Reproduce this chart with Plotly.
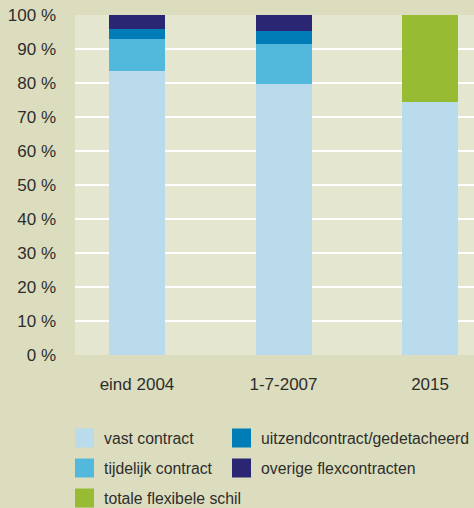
import plotly.graph_objects as go

# categories and stacked shares (percent of employees)
categories = ["eind 2004", "1-7-2007", "2015"]
vast = [83.5, 79.7, 74.4]
tijdelijk = [9.4, 11.8, 0]
uitzend = [3.0, 3.8, 0]
overige = [4.1, 4.7, 0]
flexibel = [0, 0, 25.6]

tick_values = [0, 10, 20, 30, 40, 50, 60, 70, 80, 90, 100]
tick_labels = [f"{v} %" for v in tick_values]

series = [
    ("vast contract", vast, "#b9dbec"),
    ("tijdelijk contract", tijdelijk, "#52b8dc"),
    ("uitzendcontract/gedetacheerd", uitzend, "#007db7"),
    ("overige flexcontracten", overige, "#2b2674"),
    ("totale flexibele schil", flexibel, "#97bb33"),
]

FONT = "Liberation Sans"
TEXT = "#2d2d2d"

fig = go.Figure()
for name, values, color in series:
    fig.add_trace(go.Bar(
        x=list(range(len(categories))),
        y=values,
        name=name,
        marker=dict(color=color, line=dict(width=0)),
        width=0.382,
        showlegend=False,
    ))

# legend drawn by hand: two columns, big square swatches
legend_order = [0, 2, 1, 3, 4]
for i, idx in enumerate(legend_order):
    name, _, color = series[idx]
    col, row = i % 2, i // 2
    x0 = 75 + col * 157
    yc = 438 + row * 30
    fig.add_shape(
        type="rect", xref="paper", yref="paper",
        x0=(x0 - 75) / 399, x1=(x0 + 19 - 75) / 399,
        y0=(355 - (yc + 9.5)) / 340, y1=(355 - (yc - 9.5)) / 340,
        fillcolor=color, line=dict(width=0),
    )
    fig.add_annotation(
        text=name, xref="paper", yref="paper",
        x=(x0 + 27 - 75) / 399, y=(355 - yc) / 340,
        xanchor="left", yanchor="middle", showarrow=False,
        font=dict(family=FONT, size=15.8, color=TEXT),
    )

fig.update_layout(
    barmode="stack",
    width=474,
    height=508,
    margin=dict(l=75, r=0, t=15, b=153),
    paper_bgcolor="#dcddbe",
    plot_bgcolor="#e5e6d0",
    font=dict(family=FONT, size=17, color=TEXT),
    xaxis=dict(
        range=[-0.423, 2.30],
        tickvals=list(range(len(categories))),
        ticktext=categories,
        showgrid=False,
        zeroline=False,
        showline=False,
        ticks="",
        ticklabelstandoff=17,
    ),
    yaxis=dict(
        range=[0, 100],
        tickvals=tick_values,
        ticktext=tick_labels,
        showgrid=True,
        gridcolor="white",
        gridwidth=2,
        zeroline=False,
        showline=False,
        ticks="",
        ticklabelstandoff=18,
    ),
)

fig.write_html(
    "out.html",
    config={"displayModeBar": False},
    post_script="document.body.style.margin='0';",
)
